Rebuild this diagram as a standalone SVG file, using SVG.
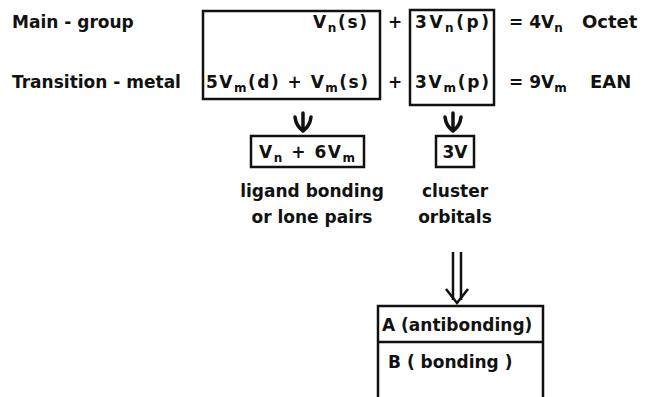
<svg xmlns="http://www.w3.org/2000/svg" width="649" height="397" viewBox="0 0 649 397">
<style>
text{font-family:"DejaVu Sans","Liberation Sans",sans-serif;font-weight:bold;font-size:17px;fill:#111}
.sub{font-size:12px}
.big{font-size:18px}
.box{fill:none;stroke:#111;stroke-width:2.5}
.ln{fill:none;stroke:#111;stroke-width:2.5}
.arr{fill:none;stroke:#111;stroke-width:3.5;stroke-linecap:round;stroke-linejoin:round}
.mid{text-anchor:middle}
</style>
<g id="labels">
<text x="12" y="28">Main - group</text>
<text x="12" y="88">Transition - metal</text>
</g>
<g id="box1">
<rect class="box" x="203" y="11" width="177" height="88"/>
<text x="313" y="28" textLength="54" lengthAdjust="spacing">V<tspan class="sub" dy="4">n</tspan><tspan dy="-4">(s)</tspan></text>
<text x="206" y="88" textLength="162" lengthAdjust="spacing">5V<tspan class="sub" dy="4">m</tspan><tspan dy="-4">(d) + V</tspan><tspan class="sub" dy="4">m</tspan><tspan dy="-4">(s)</tspan></text>
</g>
<g id="plus">
<text x="395" y="28" class="mid">+</text>
<text x="395" y="88" class="mid">+</text>
</g>
<g id="box2">
<rect class="box" x="410" y="10" width="84" height="95"/>
<text x="415" y="28" textLength="74" lengthAdjust="spacing">3V<tspan class="sub" dy="4">n</tspan><tspan dy="-4">(p)</tspan></text>
<text x="415" y="88" textLength="74" lengthAdjust="spacing">3V<tspan class="sub" dy="4">m</tspan><tspan dy="-4">(p)</tspan></text>
</g>
<g id="results">
<text x="509" y="28">= 4V<tspan class="sub" dy="4">n</tspan></text>
<text x="582" y="28" class="big">Octet</text>
<text x="509" y="88">= 9V<tspan class="sub" dy="4">m</tspan></text>
<text x="590" y="88" class="big">EAN</text>
</g>
<g id="box3">
<rect class="box" x="251" y="136" width="113" height="31"/>
<text x="259" y="158" textLength="96" lengthAdjust="spacing">V<tspan class="sub" dy="4">n</tspan><tspan dy="-4"> + 6V</tspan><tspan class="sub" dy="4">m</tspan></text>
<text x="312" y="197" class="mid">ligand bonding</text>
<text x="312" y="223" class="mid">or lone pairs</text>
</g>
<g id="box4">
<rect class="box" x="436" y="136" width="38" height="31"/>
<text x="455" y="158" class="mid">3V</text>
<text x="455" y="197" class="mid">cluster</text>
<text x="455" y="223" class="mid">orbitals</text>
</g>
<g id="box5">
<path class="ln" d="M378,397 V306 H543 V397 M378,342 H543"/>
<text x="382" y="331">A (antibonding)</text>
<text x="388" y="368">B ( bonding )</text>
</g>
<g id="connectors">
<path class="arr" d="M303,113 V130 M295,117 Q296,126 303,131 Q310,126 311,117"/>
<path class="arr" d="M453,113 V130 M445,117 Q446,126 453,131 Q460,126 461,117"/>
<path class="ln" d="M453,252 V300 M461,252 V300"/>
<path class="ln" d="M446,289 L457,303 L468,289"/>
</g>
</svg>
